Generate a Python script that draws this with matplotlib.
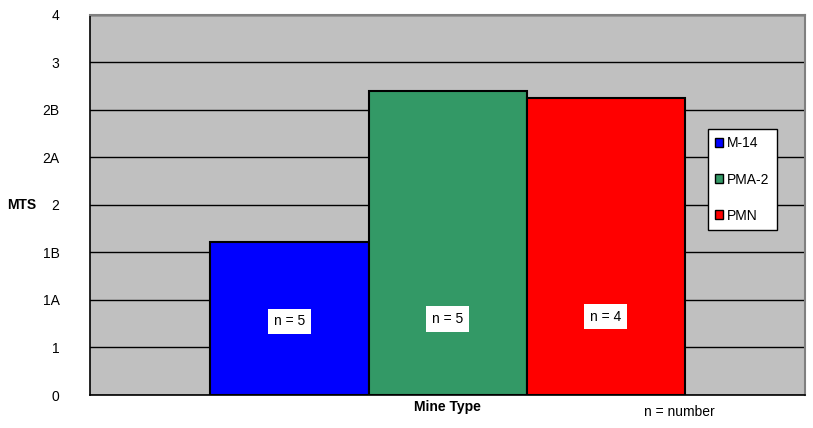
import matplotlib
matplotlib.use('Agg')
import matplotlib.pyplot as plt
from matplotlib.patches import Patch

# Data
mine_types = ['M-14', 'PMA-2', 'PMN']
mts_values = [3.22, 6.4, 6.25]
sample_sizes = [5, 5, 4]
bar_colors = ['#0000ff', '#339966', '#ff0000']
tick_labels = ['0', '1', '1A', '1B', '2', '2A', '2B', '3', '4']

plt.rcParams['font.family'] = ['Liberation Sans', 'DejaVu Sans']

fig = plt.figure(figsize=(8.13, 4.28), dpi=100)
ax = fig.add_axes([0.1107, 0.0771, 0.8795, 0.888])
ax.set_facecolor('#c0c0c0')

# Bars are laid side by side around a single category
width = 0.221
offsets = [(i - 1) * width for i in range(len(mine_types))]
ax.bar(offsets, mts_values, width=width, color=bar_colors,
       edgecolor='black', linewidth=1.5, zorder=3)

# Sample size labels inside the bars
label_y = [1.55, 1.6, 1.65]
for x, y, n in zip(offsets, label_y, sample_sizes):
    ax.text(x, y, 'n = %d' % n, ha='center', va='center', fontsize=10,
            zorder=4, bbox=dict(facecolor='white', edgecolor='none',
                                pad=4))

ax.set_xlim(-0.5, 0.5)
ax.set_ylim(0, len(tick_labels) - 1)
ax.set_yticks(range(len(tick_labels)))
ax.set_yticklabels(tick_labels, fontsize=10)
ax.set_xticks([])
ax.tick_params(axis='y', length=0, pad=22)
ax.yaxis.grid(True, color='black', linewidth=1)
ax.set_axisbelow(True)

for side in ['top', 'right']:
    ax.spines[side].set_color('#808080')
    ax.spines[side].set_linewidth(1.5)
for side in ['left', 'bottom']:
    ax.spines[side].set_color('black')
    ax.spines[side].set_linewidth(1.2)

# Axis titles placed as in the original
fig.text(0.027, 0.52, 'MTS', fontsize=10, fontweight='bold',
         ha='center', va='center')
fig.text(0.55, 0.048, 'Mine Type', fontsize=10, fontweight='bold',
         ha='center', va='center')
fig.text(0.836, 0.037, 'n = number', fontsize=10, ha='center', va='center')

handles = [Patch(facecolor=c, edgecolor='black') for c in bar_colors]
leg = ax.legend(handles, mine_types, loc='center left',
                bbox_to_anchor=(0.864, 0.567), frameon=True, fancybox=False,
                edgecolor='black', facecolor='white', framealpha=1,
                fontsize=10, handlelength=0.6, handleheight=0.6,
                handletextpad=0.3, labelspacing=1.6, borderpad=0.5,
                borderaxespad=0)
leg.get_frame().set_linewidth(1)

fig.savefig('out.png', dpi=100)
